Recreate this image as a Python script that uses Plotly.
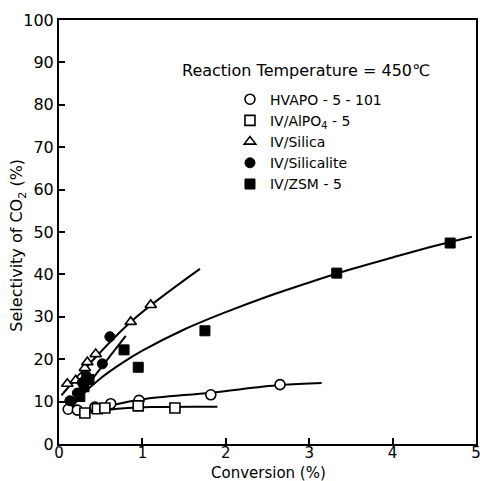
import plotly.graph_objects as go

# ---- data ----
hvapo_x = [0.11, 0.22, 0.28, 0.43, 0.62, 0.96, 1.82, 2.65]
hvapo_y = [8.2, 8.0, 15.5, 8.7, 9.5, 10.3, 11.6, 14.0]

alpo_x = [0.31, 0.46, 0.55, 0.95, 1.39]
alpo_y = [7.3, 8.3, 8.5, 9.0, 8.5]

silica_x = [0.1, 0.2, 0.31, 0.34, 0.44, 0.86, 1.10]
silica_y = [14.2, 15.0, 17.9, 19.3, 21.2, 28.8, 32.8]

silicalite_x = [0.13, 0.22, 0.28, 0.33, 0.52, 0.61]
silicalite_y = [10.2, 12.0, 14.5, 16.0, 18.9, 25.3]

zsm_x = [0.25, 0.30, 0.36, 0.78, 0.95, 1.75, 3.33, 4.69]
zsm_y = [11.2, 13.5, 15.2, 22.2, 18.1, 26.7, 40.3, 47.4]

# fitted curves as drawn in the figure
hvapo_fit_x = [0.34, 0.95, 1.82, 2.65, 3.15]
hvapo_fit_y = [7.8, 10.4, 12.1, 13.9, 14.4]

alpo_fit_x = [0.30, 0.60, 1.10, 1.90]
alpo_fit_y = [7.2, 8.1, 8.7, 8.8]

silica_fit_x = [0.03, 0.30, 0.86, 1.69]
silica_fit_y = [11.5, 17.5, 28.8, 41.3]

silicalite_fit_x = [0.15, 0.80]
silicalite_fit_y = [9.0, 25.5]

zsm_fit_x = [0.15, 0.30, 0.50, 0.75, 1.0, 1.5, 2.0, 2.5, 3.0, 3.5, 4.0, 4.5, 4.95]
zsm_fit_y = [8.5, 12.0, 15.5, 19.0, 22.0, 27.0, 31.1, 34.8, 38.1, 41.2, 44.0, 46.7, 48.9]

x_ticks = [0, 1, 2, 3, 4, 5]
y_ticks = [0, 10, 20, 30, 40, 50, 60, 70, 80, 90, 100]

FONT = "DejaVu Sans"
fig = go.Figure()

line_style = dict(color="black", width=2)
for fx, fy in [(hvapo_fit_x, hvapo_fit_y), (alpo_fit_x, alpo_fit_y),
               (silica_fit_x, silica_fit_y), (silicalite_fit_x, silicalite_fit_y),
               (zsm_fit_x, zsm_fit_y)]:
    fig.add_trace(go.Scatter(x=fx, y=fy, mode="lines", line=dict(shape="spline", **line_style),
                             showlegend=False, hoverinfo="skip"))

mk_line = dict(color="black", width=1.6)
MS = 10
fig.add_trace(go.Scatter(x=hvapo_x, y=hvapo_y, mode="markers", name="HVAPO - 5 - 101",
                         marker=dict(symbol="circle", size=MS, color="white", line=mk_line)))
fig.add_trace(go.Scatter(x=alpo_x, y=alpo_y, mode="markers", name="IV/AlPO<sub>4</sub> - 5",
                         marker=dict(symbol="square", size=MS, color="white", line=mk_line)))
fig.add_trace(go.Scatter(x=silica_x, y=silica_y, mode="markers", name="IV/Silica",
                         marker=dict(symbol="triangle-up", size=MS, color="white", line=mk_line)))
fig.add_trace(go.Scatter(x=silicalite_x, y=silicalite_y, mode="markers", name="IV/Silicalite",
                         marker=dict(symbol="circle", size=MS, color="black", line=dict(color="black", width=1))))
fig.add_trace(go.Scatter(x=zsm_x, y=zsm_y, mode="markers", name="IV/ZSM - 5",
                         marker=dict(symbol="square", size=MS, color="black", line=dict(color="black", width=1))))

fig.add_annotation(text="Reaction Temperature = 450℃", xref="paper", yref="paper",
                   x=0.29, y=0.882, xanchor="left", yanchor="middle", showarrow=False,
                   font=dict(family=FONT, size=16, color="black"))

# axis titles
fig.add_annotation(text="Conversion (%)", xref="paper", yref="paper",
                   x=0.503, y=-0.0684, xanchor="center", yanchor="middle", showarrow=False,
                   font=dict(family=FONT, size=15, color="black"))
fig.add_annotation(text="Selectivity of CO<sub>2</sub> (%)", xref="paper", yref="paper",
                   x=-0.0985, y=0.470, xanchor="center", yanchor="middle", showarrow=False,
                   textangle=-90, font=dict(family=FONT, size=16, color="black"))

axis_common = dict(showgrid=False, zeroline=False, showline=True, linecolor="black",
                   linewidth=2, mirror=True, ticks="inside", ticklen=6, tickwidth=1.5,
                   tickcolor="black", automargin=False, ticklabeloverflow="allow")

fig.update_xaxes(range=[0, 5], tickvals=x_ticks, ticktext=[str(v) for v in x_ticks],
                 tickfont=dict(family=FONT, size=15, color="black"), ticklabelstandoff=-6,
                 **axis_common)
fig.update_yaxes(range=[0, 100], tickvals=y_ticks, ticktext=[str(v) for v in y_ticks],
                 tickfont=dict(family=FONT, size=16, color="black"),
                 **axis_common)

fig.update_layout(
    width=480, height=481,
    margin=dict(l=59, r=4, t=20, b=37),
    paper_bgcolor="white", plot_bgcolor="white",
    legend=dict(x=0.41, y=0.85, xanchor="left", yanchor="top", bgcolor="rgba(0,0,0,0)",
                font=dict(family=FONT, size=14, color="black"), tracegroupgap=0),
)

fig.write_html("out.html")
